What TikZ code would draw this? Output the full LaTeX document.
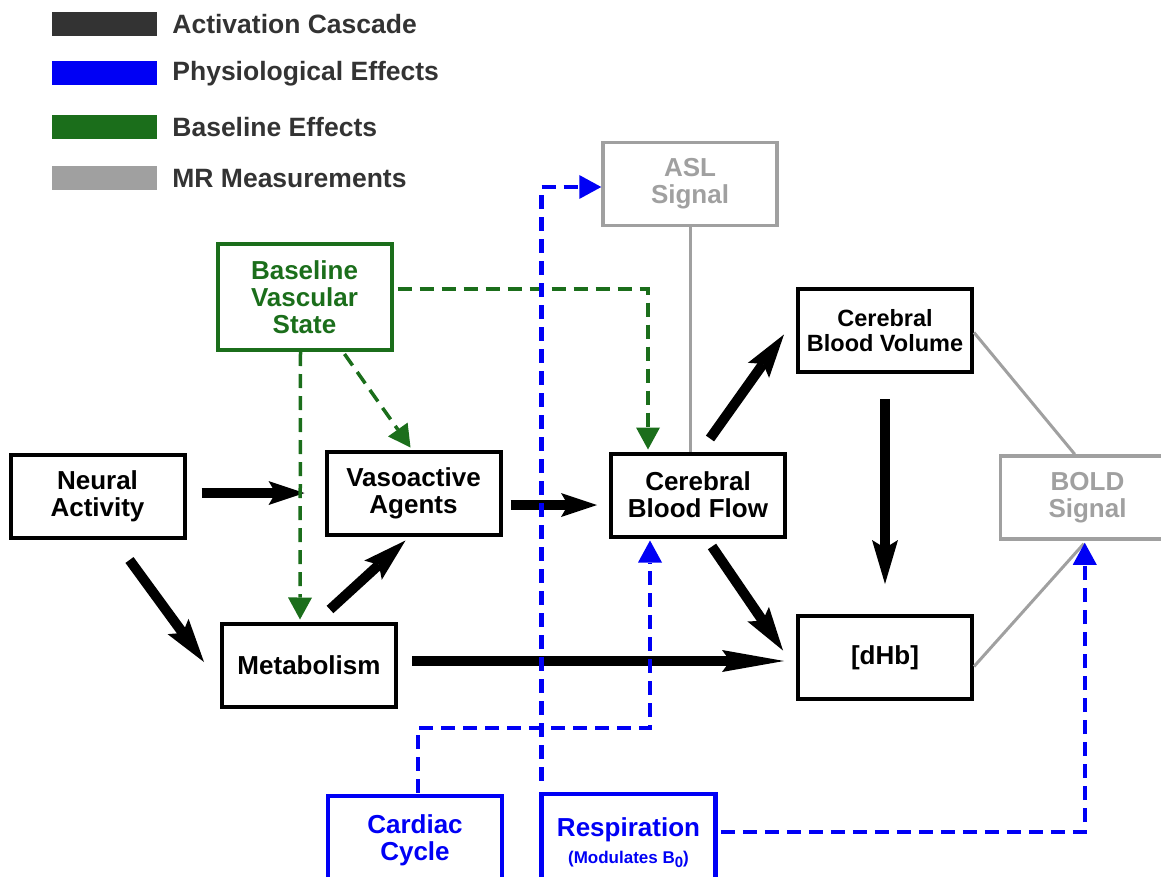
\documentclass[tikz,border=0pt]{standalone}
\usepackage{fontspec}
\setmainfont{Liberation Sans}
\usetikzlibrary{calc, arrows.meta, positioning}

\definecolor{cascadegray}{HTML}{333333}
\definecolor{physioblue}{HTML}{0000F5}
\definecolor{baselinegreen}{HTML}{1B6E1B}
\definecolor{measuregray}{HTML}{A0A0A0}

\begin{document}
\begin{tikzpicture} [x=1pt, y=-1pt,
		% define styles
		cascadenodestyle/.style={
			% The shape:
			rectangle,
			% The size:
			minimum width=174pt,
			minimum height=83pt,
			% The border:
			line width=4pt,
			draw=black,
			% Font
			font=\fontsize{26}{27}\selectfont\bfseries,
			align=center,
			text=black
		},
		baselinenodestyle/.style={
			cascadenodestyle,
			draw=baselinegreen,
			text=baselinegreen
		},
		physionodestyle/.style={
			cascadenodestyle,
			line width=4.5pt,
			draw=physioblue,
			text=physioblue
		},
		measurenodestyle/.style={
			cascadenodestyle,
			line width=3.5pt,
			draw=measuregray,
			text=measuregray
		},
		legendswatch/.style={
			rectangle,
			minimum width=105pt,
			minimum height=24pt,
			inner sep=0pt,
			draw=none
		},
		legendlabel/.style={
			inner sep=0pt,
			text=cascadegray,
			font=\fontsize{26.5}{27}\selectfont\bfseries
		},
		cascadearrow/.style={
			-{Stealth[length=44pt, width=26pt, inset=8pt, line width=0pt]},
			% Thickness
			line width=10pt,
			% Color
			black
		},
		baselinearrow/.style={
			-{Triangle[length=22pt, width=24pt, line width=0pt]},
			line width=3.5pt,
			baselinegreen,
			dash pattern=on 14pt off 8pt
		},
		physioarrow/.style={
			-{Triangle[length=22pt, width=24pt, line width=0pt]},
			line width=4.5pt,
			physioblue,
			dash pattern=on 14pt off 8pt
		},
		measureline/.style={
			line width=3pt,
			measuregray
		}]
		% end of style definition

		\path[use as bounding box] (0,0) rectangle (1161,877);
		\clip (0,0) rectangle (1161,877);

		% legend
		\node (kCascade) [legendswatch, fill=cascadegray] at (104.5,24) {};
		\node (lCascade) [legendlabel, right=15pt of kCascade] {Activation Cascade};
		\node (kPhysio) [legendswatch, fill=physioblue] at (104.5,73.5) {};
		\node (lPhysio) [legendlabel, right=15pt of kPhysio] {Physiological Effects};
		\node (kBaseline) [legendswatch, fill=baselinegreen] at (104.5,127.5) {};
		\node (lBaseline) [legendlabel, right=15pt of kBaseline] {Baseline Effects};
		\node (kMeasure) [legendswatch, fill=measuregray] at (104.5,178.5) {};
		\node (lMeasure) [legendlabel, right=15pt of kMeasure] {MR Measurements};

		% draw nodes
		\node (iNeural) [cascadenodestyle] at (97.5,496.5) {Neural\\Activity};
		\node (iVasoactive) [cascadenodestyle] at (413.5,493) {Vasoactive\\Agents};
		\node (iMetabolism) [cascadenodestyle] at (309,665) {Metabolism};
		\node (iCBF) [cascadenodestyle] at (698,495) {Cerebral\\Blood Flow};
		\node (iCBV) [cascadenodestyle, font=\fontsize{23.5}{25}\selectfont\bfseries] at (885,330.5) {Cerebral\\Blood Volume};
		\node (iDHb) [cascadenodestyle] at (885,657.5) {[dHb]};

		\node (iBaseline) [baselinenodestyle, minimum height=106pt] at (304.5,297) {Baseline\\Vascular\\State};

		\node (iASL) [measurenodestyle] at (690,184) {ASL\\Signal};
		\node (iBOLD) [measurenodestyle] at (1087.5,497.5) {BOLD\\Signal};

		\node (iCardiac) [physionodestyle, minimum height=88pt] at (415,840) {Cardiac\\Cycle};
		\node (iRespiration) [physionodestyle, minimum height=98pt] at (628.5,843)
			{Respiration\\{\fontsize{17}{18}\selectfont (Modulates B\raisebox{-4pt}{\fontsize{15}{15}\selectfont 0})}};

		% connect nodes
		\draw [measureline] (iASL.south) -- (iASL.south |- iCBF.north);
		\draw [measureline] ($(iCBV.east)+(0,2)$) -- ($(iBOLD.north west)+(76,0)$);
		\draw [measureline] ($(iDHb.east)+(0,9)$) -- ($(iBOLD.south west)+(85,3)$);

		\draw [cascadearrow, -{Stealth[length=36pt, width=24pt, inset=7pt, line width=0pt]}]
			($(iNeural.east)+(15,-3.5)$) -- ($(iVasoactive.west)+(-20,0)$);
		\draw [cascadearrow] ($(iNeural.south)+(32,20)$) -- ($(iMetabolism.west)+(-16,-3)$);
		\draw [cascadearrow] ($(iMetabolism.north)+(21,-12)$) -- ($(iVasoactive.south)+(-8,4)$);
		\draw [cascadearrow, -{Stealth[length=36pt, width=24pt, inset=7pt, line width=0pt]}]
			($(iVasoactive.east)+(8,12)$) -- ($(iCBF.west)+(-12,10)$);
		\draw [cascadearrow, -{Stealth[length=62pt, width=22pt, inset=8pt, line width=0pt]}]
			($(iMetabolism.east)+(14,-4)$) -- ($(iDHb.west)+(-12,3.5)$);
		\draw [cascadearrow] ($(iCBF.north)+(12,-13)$) -- ($(iCBV.west)+(-12,4)$);
		\draw [cascadearrow] ($(iCBF.south)+(14,8)$) -- ($(iDHb.west)+(-13,-7)$);
		\draw [cascadearrow] ($(iCBV.south)+(0,25)$) -- ($(iDHb.north)+(0,-30)$);

		\draw [baselinearrow] ($(iBaseline.south)+(-4,0)$) -- ($(iMetabolism.north)+(-9,-2)$);
		\draw [baselinearrow] ($(iBaseline.south)+(40,2)$) -- ($(iVasoactive.north)+(-3,-2)$);
		\draw [baselinearrow] ($(iBaseline.east)+(4,-8)$) -| ($(iCBF.north)+(-50,-2)$);

		\draw [physioarrow] ($(iRespiration.north west)+(2,-11)$) |- ($(iASL.west)+(0,3)$);
		\draw [physioarrow] ($(iCardiac.north)+(3,-1)$) -- ++(0,-65) -| ($(iCBF.south)+(-48,2)$);
		\draw [physioarrow] ($(iRespiration.east)+(3,-11)$) -| ($(iBOLD.south west)+(86,2)$);
\end{tikzpicture}
\end{document}
